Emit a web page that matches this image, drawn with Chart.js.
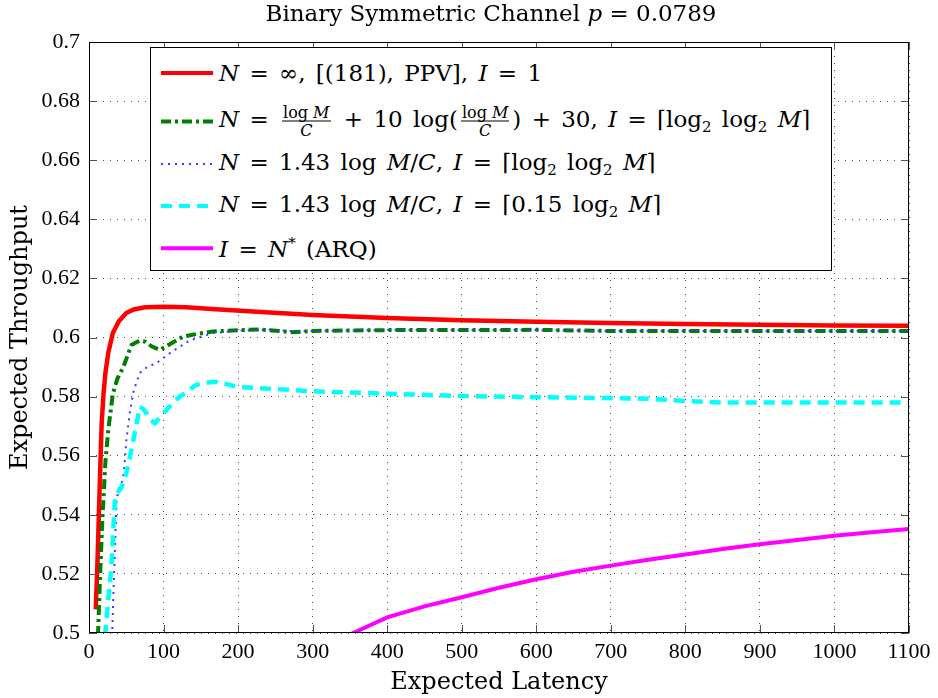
<!DOCTYPE html>
<html>
<head>
<meta charset="utf-8">
<script src="https://cdn.jsdelivr.net/npm/chart.js@4"></script>
<style>
body { margin: 0; background: #fff; }
#wrap { position: relative; width: 938px; height: 698px; }
#legend { position: absolute; left: 150px; top: 47px; width: 680px; height: 222px; border: 1px solid #000; background: #fff; font-family: "DejaVu Serif", serif; font-size: 23px; word-spacing: 3px; color: #000; }
.row { position: absolute; left: 9px; display: flex; align-items: center; transform: translateY(-50%); white-space: nowrap; }
.row svg { margin-right: 5px; }
.frac { display: inline-flex; flex-direction: column; align-items: center; vertical-align: middle; font-size: 16px; line-height: 17px; margin: 0 3px; word-spacing: 0; }
.frac .num { border-bottom: 1px solid #000; padding: 0 1px; }
sub { font-size: 15px; vertical-align: -5px; }
i { font-style: italic; }
</style>
</head>
<body>
<div id="wrap">
  <canvas id="c"></canvas>
  <div id="legend">
    <div class="row" style="top:25px"><svg width="54" height="10"><line x1="1" y1="5" x2="53" y2="5" stroke="#ff0000" stroke-width="4"/></svg><span><i>N</i> = ∞, [(181), PPV], <i>I</i> = 1</span></div>
    <div class="row" style="top:73px"><svg width="54" height="10"><line x1="1" y1="5" x2="53" y2="5" stroke="#008000" stroke-width="4" stroke-dasharray="10,4,3,4"/></svg><span><i>N</i> = <span class="frac"><span class="num">log <i>M</i></span><span><i>C</i></span></span> + 10 log(<span class="frac"><span class="num">log <i>M</i></span><span><i>C</i></span></span>) + 30, <i>I</i> = ⌈log<sub>2</sub> log<sub>2</sub> <i>M</i>⌉</span></div>
    <div class="row" style="top:116px"><svg width="54" height="10"><line x1="1" y1="5" x2="53" y2="5" stroke="#3a3aff" stroke-width="2" stroke-dasharray="2,5"/></svg><span><i>N</i> = 1.43 log <i>M</i>/<i>C</i>, <i>I</i> = ⌈log<sub>2</sub> log<sub>2</sub> <i>M</i>⌉</span></div>
    <div class="row" style="top:158px"><svg width="54" height="10"><line x1="1" y1="5" x2="53" y2="5" stroke="#00ffff" stroke-width="4" stroke-dasharray="11,7"/></svg><span><i>N</i> = 1.43 log <i>M</i>/<i>C</i>, <i>I</i> = ⌈0.15 log<sub>2</sub> <i>M</i>⌉</span></div>
    <div class="row" style="top:200px"><svg width="54" height="10"><line x1="1" y1="5" x2="53" y2="5" stroke="#ff00ff" stroke-width="4"/></svg><span><i>I</i> = <i>N</i><sup style="font-size:15px">*</sup> (ARQ)</span></div>
  </div>
</div>
<script>
// values
var xTicks = [0, 100, 200, 300, 400, 500, 600, 700, 800, 900, 1000, 1100];
var yTicks = [0.5, 0.52, 0.54, 0.56, 0.58, 0.6, 0.62, 0.64, 0.66, 0.68, 0.7];
var yTickLabels = ['0.5', '0.52', '0.54', '0.56', '0.58', '0.6', '0.62', '0.64', '0.66', '0.68', '0.7'];

var redX = [9, 11, 13, 15, 17, 19.5, 22, 26, 32, 40, 50, 60, 75, 100, 130, 170, 220, 300, 400, 500, 600, 700, 800, 900, 1000, 1100];
var redY = [0.508, 0.521, 0.538, 0.555, 0.571, 0.581, 0.588, 0.595, 0.6015, 0.6055, 0.6083, 0.6095, 0.6102, 0.6104, 0.6102, 0.6096, 0.6088, 0.6076, 0.6066, 0.6058, 0.6053, 0.6049, 0.6046, 0.6043, 0.6041, 0.6040];

var greenX = [12, 15, 18, 22, 26, 32, 38, 46, 57, 68, 76, 84, 95, 110, 126, 145, 166, 200, 230, 255, 270, 300, 350, 400, 500, 600, 700, 800, 900, 1000, 1100];
var greenY = [0.499, 0.520, 0.539, 0.558, 0.569, 0.581, 0.586, 0.590, 0.5975, 0.599, 0.5985, 0.597, 0.5958, 0.598, 0.6003, 0.6012, 0.602, 0.6025, 0.6027, 0.6022, 0.6018, 0.6022, 0.6024, 0.6025, 0.6025, 0.6026, 0.6022, 0.6022, 0.6022, 0.6022, 0.6022];

var blueX = [31, 33, 35, 37, 40, 44, 47, 50, 55, 60, 68, 78, 91, 109, 135, 166, 200, 240, 270, 300, 400, 500, 600, 700, 800, 900, 1000, 1100];
var blueY = [0.499, 0.515, 0.530, 0.545, 0.549, 0.551, 0.555, 0.565, 0.575, 0.582, 0.588, 0.590, 0.5914, 0.5948, 0.599, 0.6015, 0.6023, 0.6027, 0.6022, 0.6022, 0.6025, 0.6025, 0.6025, 0.6022, 0.6022, 0.6022, 0.6022, 0.6022];

var cyanX = [21.5, 25, 30, 35, 40, 44, 50, 55, 60, 64, 68, 72, 77, 83, 88.5, 95, 104, 115, 122, 133, 144, 160, 171, 185, 198, 230, 274, 300, 400, 500, 600, 700, 750, 800, 850, 900, 1000, 1100];
var cyanY = [0.499, 0.509, 0.5224, 0.546, 0.548, 0.5495, 0.554, 0.5597, 0.566, 0.571, 0.5766, 0.576, 0.5744, 0.572, 0.571, 0.573, 0.5755, 0.5785, 0.580, 0.582, 0.584, 0.5848, 0.585, 0.5842, 0.5833, 0.5828, 0.5822, 0.5818, 0.581, 0.5802, 0.5798, 0.5795, 0.5793, 0.5785, 0.578, 0.578, 0.578, 0.578];

var magX = [350, 400, 450, 500, 550, 600, 650, 700, 750, 800, 850, 900, 950, 1000, 1050, 1100];
var magY = [0.4995, 0.5053, 0.5090, 0.5121, 0.5153, 0.5182, 0.5207, 0.5228, 0.5248, 0.5266, 0.5284, 0.5300, 0.5315, 0.5329, 0.5341, 0.5352];

function pts(xs, ys) {
    return xs.map(function (x, i) { return {x: x, y: ys[i]}; });
}

function line(data, color, width, dash, order) {
    return {
        data: data,
        borderColor: color,
        borderWidth: width,
        borderDash: dash,
        pointRadius: 0,
        tension: 0,
        fill: false,
        clip: 0,
        order: order
    };
}

// box round the plot with inward ticks, matlab style
var frame = {
    id: 'frame',
    afterDatasetsDraw: function (chart) {
        var ctx = chart.ctx, a = chart.chartArea, xs = chart.scales.x, ys = chart.scales.y;
        ctx.save();
        ctx.strokeStyle = '#555';
        ctx.lineWidth = 1;
        ctx.beginPath();
        xs.ticks.forEach(function (t) {
            var p = Math.round(xs.getPixelForValue(t.value)) + 0.5;
            ctx.moveTo(p, a.bottom); ctx.lineTo(p, a.bottom - 8);
            ctx.moveTo(p, a.top); ctx.lineTo(p, a.top + 8);
        });
        ys.ticks.forEach(function (t) {
            var p = Math.round(ys.getPixelForValue(t.value)) + 0.5;
            ctx.moveTo(a.left, p); ctx.lineTo(a.left + 8, p);
            ctx.moveTo(a.right, p); ctx.lineTo(a.right - 8, p);
        });
        ctx.stroke();
        ctx.strokeStyle = '#000';
        ctx.strokeRect(Math.round(a.left) + 0.5, Math.round(a.top) + 0.5, Math.round(a.right - a.left) - 1, Math.round(a.bottom - a.top) - 1);
        ctx.restore();
    },
    afterDraw: function (chart) {
        var ctx = chart.ctx;
        var f = '23px "DejaVu Serif"', fi = 'italic 23px "DejaVu Serif"';
        var parts = [['Binary Symmetric Channel ', f], ['p', fi], [' = 0.0789', f]];
        ctx.save();
        ctx.fillStyle = '#000';
        ctx.textBaseline = 'middle';
        var w = 0;
        parts.forEach(function (p) { ctx.font = p[1]; w += ctx.measureText(p[0]).width; });
        var x = 491 - w / 2;
        parts.forEach(function (p) { ctx.font = p[1]; ctx.fillText(p[0], x, 15); x += ctx.measureText(p[0]).width; });
        ctx.restore();
    }
};

new Chart(document.getElementById('c'), {
    type: 'line',
    data: {
        datasets: [
            line(pts(redX, redY), '#ff0000', 4.5, [], 5),
            line(pts(greenX, greenY), '#008000', 4, [10, 4, 3, 4], 4),
            line(pts(blueX, blueY), '#3a3aff', 2, [2, 5], 3),
            line(pts(cyanX, cyanY), '#00ffff', 4.5, [11, 7], 2),
            line(pts(magX, magY), '#ff00ff', 4, [], 1)
        ]
    },
    options: {
        responsive: true,
        maintainAspectRatio: false,
        animation: false,
        layout: { padding: { top: 42, right: 29, left: 0, bottom: 0 } },
        plugins: {
            legend: { display: false },
            title: { display: false },
            tooltip: { enabled: false }
        },
        scales: {
            x: {
                type: 'linear',
                min: 0,
                max: 1100,
                afterBuildTicks: function (s) { s.ticks = xTicks.map(function (v) { return {value: v}; }); },
                afterFit: function (s) { s.height = 65; },
                ticks: {
                    color: '#000',
                    padding: 6,
                    maxRotation: 0,
                    font: { family: '"Liberation Serif"', size: 22 },
                    callback: function (v) { return String(v); }
                },
                grid: { color: 'rgba(0,0,0,0.7)', drawTicks: false, lineWidth: 1 },
                border: { display: false, dash: [1, 6] },
                title: {
                    display: true,
                    text: 'Expected Latency',
                    color: '#000',
                    font: { family: '"DejaVu Serif"', size: 24 },
                    padding: { top: 0, bottom: 1 }
                }
            },
            y: {
                min: 0.5,
                max: 0.7,
                afterBuildTicks: function (s) { s.ticks = yTicks.map(function (v) { return {value: v}; }); },
                afterFit: function (s) { s.width = 89; },
                ticks: {
                    color: '#000',
                    padding: 9,
                    font: { family: '"Liberation Serif"', size: 22 },
                    callback: function (v, i) { return yTickLabels[i]; }
                },
                grid: { color: 'rgba(0,0,0,0.7)', drawTicks: false, lineWidth: 1 },
                border: { display: false, dash: [1, 6] },
                title: {
                    display: true,
                    text: 'Expected Throughput',
                    color: '#000',
                    font: { family: '"DejaVu Serif"', size: 24 },
                    padding: { top: 6, bottom: 0 }
                }
            }
        }
    },
    plugins: [frame]
});
</script>
</body>
</html>
